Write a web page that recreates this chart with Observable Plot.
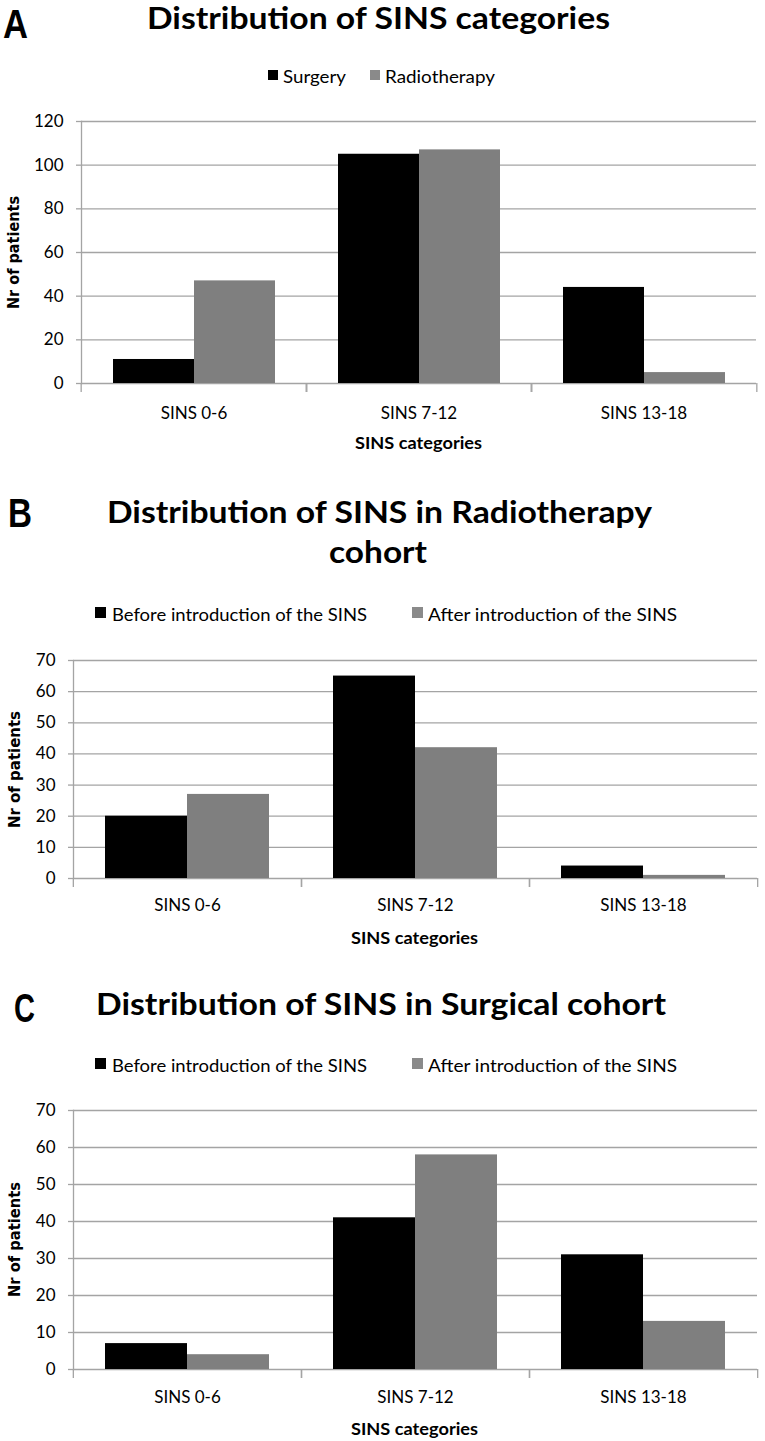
<!DOCTYPE html>
<html>
<head>
<meta charset="utf-8">
<script src="https://cdn.jsdelivr.net/npm/d3@7"></script>
<script src="https://cdn.jsdelivr.net/npm/@observablehq/plot@0.6"></script>
<style>
  html, body { margin: 0; padding: 0; background: #fff; }
  #page { position: relative; width: 765px; height: 1441px; overflow: hidden; background: #fff; }
  .t { position: absolute; white-space: nowrap; line-height: 1; }
  .sw { position: absolute; }
  #page svg { position: absolute; left: 0; }
</style>
</head>
<body>
<div id="page"></div>
<script>
// ---------- data ----------
const categories = ["SINS 0-6", "SINS 7-12", "SINS 13-18"];

const seriesA = ["Surgery", "Radiotherapy"];
const surgeryA = [11, 105, 44];
const radiotherapyA = [47, 107, 5];

const seriesBC = ["Before introduction of the SINS", "After introduction of the SINS"];
const beforeB = [20, 65, 4];
const afterB = [27, 42, 1];
const beforeC = [7, 41, 31];
const afterC = [4, 58, 13];

const ticksA = [0, 20, 40, 60, 80, 100, 120];
const ticksBC = [0, 10, 20, 30, 40, 50, 60, 70];

const titleA = "Distribution of SINS categories";
const titleB1 = "Distribution of SINS in Radiotherapy";
const titleB2 = "cohort";
const titleC = "Distribution of SINS in Surgical cohort";
const xTitle = "SINS categories";
const yTitle = "Nr of patients";

// ---------- styles ----------
const barColors = ["#000000", "#7f7f7f"];
const swatchColors = ["#000000", "#8a8a8a"];
const GRID = "#a4a4a4";

const page = document.getElementById("page");

function txt(str, o) {
  const d = document.createElement("div");
  d.className = "t";
  d.textContent = str;
  d.style.fontFamily = o.family || "Lato";
  d.style.fontSize = o.size + "px";
  d.style.fontWeight = o.weight || 400;
  d.style.color = "#000";
  page.appendChild(d);
  const probe = document.createElement("span");
  probe.style.cssText = "display:inline-block;width:0;height:0;vertical-align:baseline";
  d.appendChild(probe);
  const base = probe.offsetTop;
  d.removeChild(probe);
  const nw = d.getBoundingClientRect().width;
  const h = d.offsetHeight;
  const w = o.w || nw;
  const s = w / nw;
  if (o.rotate) {
    d.style.left = (o.x - nw / 2) + "px";
    d.style.top = (o.y - h / 2) + "px";
    d.style.transformOrigin = "50% 50%";
    d.style.transform = `rotate(-90deg) scaleX(${s})`;
  } else {
    const left = o.anchor === "middle" ? o.x - w / 2 : o.x;
    d.style.left = left + "px";
    d.style.top = (o.y - base) + "px";
    d.style.transformOrigin = "0 0";
    d.style.transform = `scaleX(${s})`;
  }
  return d;
}

function swatch(x, y, size, color) {
  const s = document.createElement("div");
  s.className = "sw";
  s.style.left = x + "px";
  s.style.top = y + "px";
  s.style.width = size + "px";
  s.style.height = size + "px";
  s.style.background = color;
  page.appendChild(s);
}

function panel(cfg) {
  const rows = [];
  categories.forEach((c, i) =>
    cfg.series.forEach((s, j) => rows.push({cat: c, series: s, value: cfg.values[j][i]}))
  );
  const plotW = 765 - cfg.ml - cfg.mr;
  const half = plotW / categories.length / 2;
  const yMax = cfg.ticks[cfg.ticks.length - 1];
  const chart = Plot.plot({
    width: 765,
    height: cfg.height,
    marginTop: cfg.mt,
    marginBottom: cfg.mb,
    marginLeft: cfg.ml,
    marginRight: cfg.mr,
    style: {fontFamily: "Lato", fontSize: "17px", color: "#000", background: "transparent", overflow: "visible"},
    fx: {domain: categories, padding: 0, label: null},
    x: {domain: cfg.series, axis: null, paddingInner: 0, paddingOuter: 0.38},
    y: {domain: [0, yMax], axis: null},
    color: {domain: cfg.series, range: barColors},
    marks: [
      Plot.gridY(cfg.ticks, {stroke: GRID, strokeOpacity: 1, strokeWidth: 1.3}),
      Plot.frame({anchor: "left", facetAnchor: "left", stroke: GRID, strokeOpacity: 1, strokeWidth: 1.3}),
      Plot.barY(rows, {fx: "cat", x: "series", y: "value", fill: "series"}),
      Plot.axisY(cfg.ticks, {anchor: "left", tickSize: 5, tickPadding: 13, stroke: GRID, strokeOpacity: 1, strokeWidth: 1.3, label: null, fontSize: 17}),
      Plot.axisFx({anchor: "bottom", tickSize: 0, tickPadding: cfg.catPad, label: null, fontSize: 17}),
      Plot.axisFx({anchor: "bottom", tickSize: 9, fill: "none", label: null, dx: -half, stroke: GRID, strokeOpacity: 1, strokeWidth: 1.3}),
      Plot.axisFx({anchor: "bottom", tickSize: 9, fill: "none", label: null, dx: half, stroke: GRID, strokeOpacity: 1, strokeWidth: 1.3})
    ]
  });
  chart.style.top = cfg.top + "px";
  page.appendChild(chart);

  const plotTop = cfg.top + cfg.mt;
  const plotBottom = cfg.top + cfg.height - cfg.mb;
  // axis titles
  txt(xTitle, {x: cfg.ml + plotW / 2, y: plotBottom + 66, size: 17, weight: 700, anchor: "middle", w: 127});
  txt(yTitle, {x: cfg.yLabelX, y: (plotTop + plotBottom) / 2, size: 15, weight: 700, family: "DejaVu Sans", rotate: true, w: cfg.yLabelW});
}

// ---------- Panel A ----------
txt("A", {x: 3, y: 38, size: 40, weight: 700, family: "Liberation Sans", w: 25});
txt(titleA, {x: 147, y: 29, size: 30, weight: 700, w: 463});
swatch(268, 70, 10, swatchColors[0]);
txt(seriesA[0], {x: 283, y: 83, size: 17, w: 63});
swatch(370, 70, 10, swatchColors[1]);
txt(seriesA[1], {x: 385, y: 83, size: 17, w: 110});
panel({series: seriesA, values: [surgeryA, radiotherapyA], ticks: ticksA,
  top: 100, height: 360, mt: 21, mb: 77, ml: 80, mr: 8, catPad: 23, yLabelX: 15, yLabelW: 113});

// ---------- Panel B ----------
txt("B", {x: 8, y: 527, size: 40, weight: 700, family: "Liberation Sans", w: 24});
txt(titleB1, {x: 107, y: 523, size: 30, weight: 700, w: 545});
txt(titleB2, {x: 378, y: 563, size: 30, weight: 700, anchor: "middle", w: 98});
swatch(95, 607, 11, swatchColors[0]);
txt(seriesBC[0], {x: 112, y: 621, size: 17, w: 255});
swatch(412, 607, 11, swatchColors[1]);
txt(seriesBC[1], {x: 428, y: 621, size: 17, w: 249});
panel({series: seriesBC, values: [beforeB, afterB], ticks: ticksBC,
  top: 640, height: 320, mt: 20, mb: 82, ml: 72, mr: 8, catPad: 20, yLabelX: 16, yLabelW: 117});

// ---------- Panel C ----------
txt("C", {x: 14, y: 1022, size: 40, weight: 700, family: "Liberation Sans", w: 21});
txt(titleC, {x: 96, y: 1015, size: 30, weight: 700, w: 570});
swatch(95, 1058, 11, swatchColors[0]);
txt(seriesBC[0], {x: 112, y: 1072, size: 17, w: 255});
swatch(412, 1058, 11, swatchColors[1]);
txt(seriesBC[1], {x: 428, y: 1072, size: 17, w: 249});
panel({series: seriesBC, values: [beforeC, afterC], ticks: ticksBC,
  top: 1090, height: 351, mt: 20, mb: 72, ml: 72, mr: 8, catPad: 21, yLabelX: 16, yLabelW: 115});
</script>
</body>
</html>
